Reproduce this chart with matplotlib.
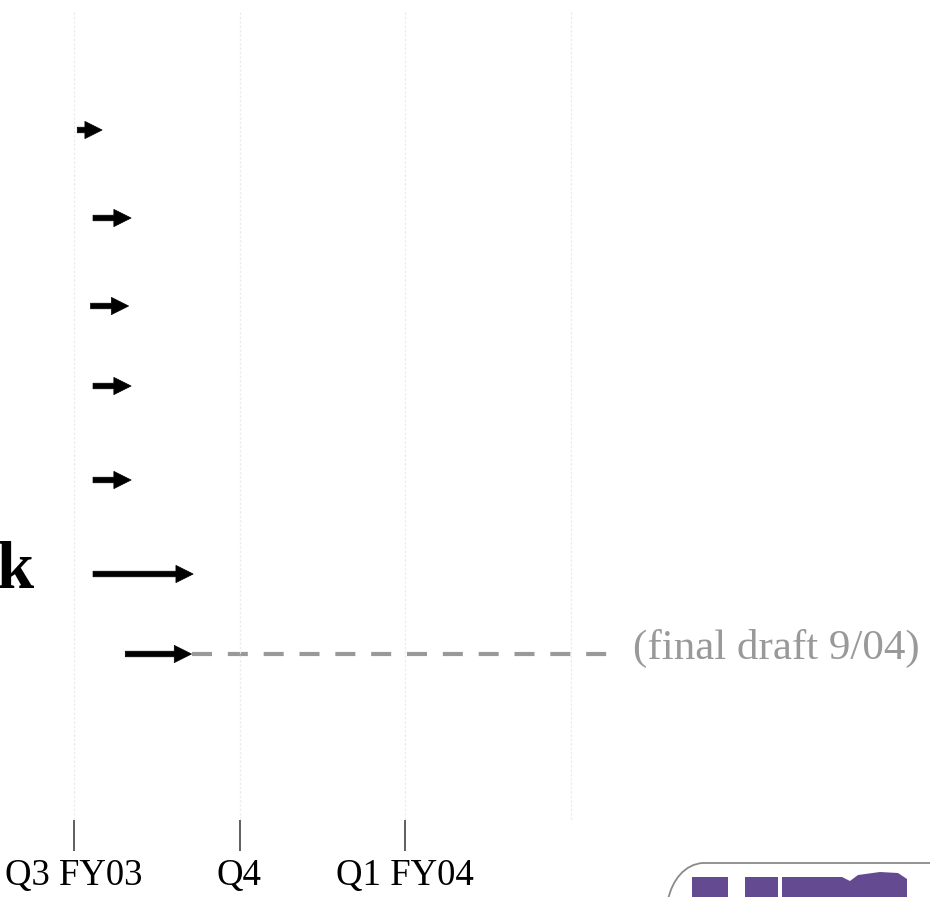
import matplotlib
matplotlib.use('Agg')
from matplotlib import pyplot as plt
from matplotlib.patches import Rectangle, Polygon, PathPatch
from matplotlib.path import Path

plt.rcParams['font.family'] = ['Liberation Serif', 'DejaVu Serif']

# quarter labels on the time axis (0 = Q3 FY03)
quarters = ['Q3 FY03', 'Q4', 'Q1 FY04']
grid_q = [0, 1, 2, 3]

# arrows: start / end in quarters, row position (top = small)
arrow_start = [0.02, 0.115, 0.10, 0.115, 0.115, 0.115, 0.31]
arrow_end = [0.17, 0.345, 0.33, 0.345, 0.345, 0.72, 0.71]
arrow_row = [130, 218, 306, 386, 480, 574, 654]

# projection of the last item
draft_start = 0.71
draft_end = 3.31
draft_label = '(final draft 9/04)'

fig = plt.figure(figsize=(9.3, 8.97), dpi=100)

# background layer in pixel units for the logo
bg = fig.add_axes([0, 0, 1, 1])
bg.set_xlim(0, 930)
bg.set_ylim(897, 0)
bg.axis('off')
purple = '#634a91'
bg.add_patch(Rectangle((692, 877), 36, 25, color=purple, lw=0))
bg.add_patch(Rectangle((745, 877), 33, 25, color=purple, lw=0))
bg.add_patch(Polygon([(782, 900), (782, 877), (842, 877), (850, 881), (858, 875),
                      (880, 872), (898, 873), (907, 879), (907, 900)],
                     closed=True, color=purple, lw=0))
outline = Path([(668, 900), (672, 880), (685, 864), (703, 863), (935, 863)],
               [Path.MOVETO, Path.CURVE4, Path.CURVE4, Path.CURVE4, Path.LINETO])
bg.add_patch(PathPatch(outline, fill=False, edgecolor='#8a8a8a', lw=1.3))

ax = fig.add_axes([0, 1 - 820 / 897, 1, (820 - 12) / 897])
ax.patch.set_alpha(0)
ax.set_xlim(-74 / 165.5, (930 - 74) / 165.5)
ax.set_ylim(820, 12)
for s in ax.spines.values():
    s.set_visible(False)
ax.yaxis.set_visible(False)

ax.vlines(grid_q, 12, 820, colors='#ebebeb', linestyles=(0, (2, 1.5)), lw=0.9)

for x0, x1, y in zip(arrow_start, arrow_end, arrow_row):
    ax.annotate('', xy=(x1, y), xytext=(x0, y),
                arrowprops=dict(arrowstyle='simple,head_length=0.62,head_width=0.62,tail_width=0.2',
                                lw=0.5, color='black', mutation_scale=20,
                                shrinkA=0, shrinkB=0))

ax.plot([draft_start, draft_end], [654, 654], color='#999999', lw=3,
        dashes=(4.8, 3.8), zorder=1)
ax.text(3.38, 659, draft_label, color='#999999', fontsize=31, va='baseline', ha='left')

ax.text(-0.245, 588, 'k', fontsize=48, fontweight='bold', va='baseline', ha='right')

ax.set_xticks([0, 1, 2], quarters)
ax.tick_params(axis='x', length=22, width=1.1, color='#333333', pad=6,
               labelsize=26.5, labelcolor='black')

fig.savefig('out.png', dpi=100)
